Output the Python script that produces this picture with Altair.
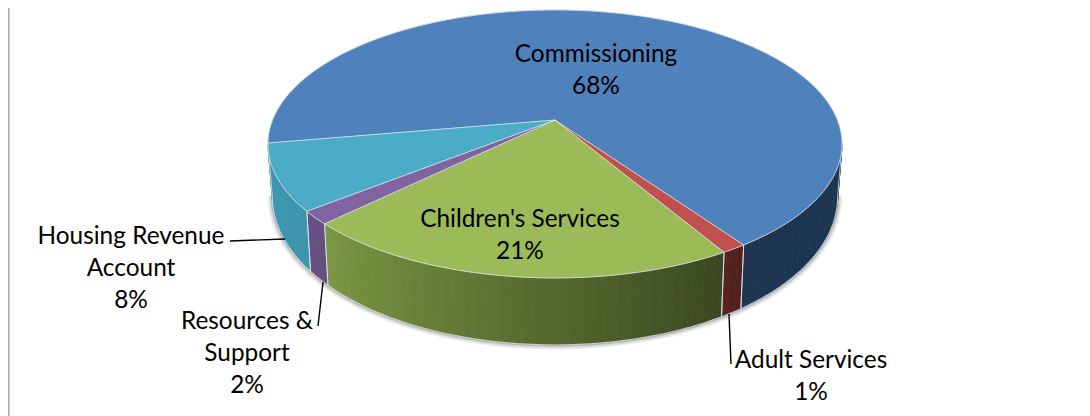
import math
import altair as alt

# ---- data
categories = ["Commissioning", "Adult Services", "Children's Services", "Resources & Support", "Housing Revenue Account"]
shares = [68.1, 1.2, 21.1, 1.6, 8.0]
percent_labels = ["68%", "1%", "21%", "2%", "8%"]

# ---- styles
top_colors = ["#4f81bd", "#c0504d", "#9bbb59", "#8064a2", "#4bacc6"]
wall_right = ["#1c3350", "#50201e", "#3b4820", "#65507f", "#3d94ad"]   # colour at the viewer's right end of the wall
wall_left = ["#1f3652", "#5a2320", "#7c9944", "#6a5284", "#3f97b1"]    # colour at the viewer's left end of the wall
edge = "#dfe6ee"

# ---- 3D view of the pie (perspective map of the unit disc to page pixels)
PAGE = 8
CX, CY = 555, 120
A, B, K = 282.4, 129.7, 0.179
START = 80.1  # degrees clockwise from the front where the first slice starts
VIS = math.degrees(math.acos(K))


def top(t):
    r = math.radians(t)
    u, v = -math.sin(r), math.cos(r)
    d = 1 - K * v
    return [CX + A * u / d - PAGE, CY + B * v / d - PAGE]


def bottom(t):
    x, y = top(t)
    v = math.cos(math.radians(t))
    return [CX - PAGE + (x + PAGE - CX) * 0.985, y + 49 + 18 * v]


def steps(a, b, size=1.0):
    n = max(2, int(abs(b - a) / size) + 1)
    return [a + (b - a) * i / n for i in range(n + 1)]


def mix(c1, c2, f):
    p = [int(c1[i:i + 2], 16) for i in (1, 3, 5)]
    q = [int(c2[i:i + 2], 16) for i in (1, 3, 5)]
    return "#%02x%02x%02x" % tuple(round(a + (b - a) * f) for a, b in zip(p, q))


def poly(pts, color):
    return {"type": "Feature", "properties": {"c": color},
            "geometry": {"type": "Polygon", "coordinates": [pts + [pts[0]]]}}


def line(pts, color="#000000"):
    return {"type": "Feature", "properties": {"c": color},
            "geometry": {"type": "LineString", "coordinates": pts}}


slices, walls, wall_lines = [], [], []
a = START
for i, s in enumerate(shares):
    b = a + s * 3.6
    # the pie surface
    slices.append(poly([top(t) for t in steps(a, b)] + [[CX - PAGE, CY - PAGE]], top_colors[i]))
    # the visible outer wall (front half only), in shaded strips
    for lo, hi in [(a, b), (a - 360, b - 360)]:
        lo2, hi2 = max(lo, -VIS), min(hi, VIS)
        if lo2 >= hi2:
            continue
        ts = steps(lo2, hi2, 2.0)
        for t1, t2 in zip(ts[:-1], ts[1:]):
            f = (t1 - lo2) / (hi2 - lo2)
            walls.append(poly([top(t1), top(t2), bottom(t2), bottom(t1)],
                              mix(wall_right[i], wall_left[i], f)))
        wall_lines.append(line([top(lo2), bottom(lo2)], edge))
        wall_lines.append(line([top(hi2), bottom(hi2)], edge))
    a = b

rim = line([bottom(t) for t in steps(-VIS, VIS)], edge)


def geo(features, **mark):
    return (alt.Chart(alt.Data(values=features))
            .mark_geoshape(**mark)
            .encode(color=alt.Color("properties.c:N", scale=None),
                    stroke=alt.Stroke("properties.c:N", scale=None))
            .project(type="identity", scale=1, translate=[0, 0]))


def geo_line(features, **mark):
    return (alt.Chart(alt.Data(values=features))
            .mark_geoshape(filled=False, **mark)
            .encode(stroke=alt.Stroke("properties.c:N", scale=None))
            .project(type="identity", scale=1, translate=[0, 0]))


def leader(x1, y1, x2, y2):
    return alt.Chart(alt.Data(values=[{"a": 1}])).mark_rule(color="#000000", strokeWidth=1.4).encode(
        x=alt.value(x1 - PAGE), x2=alt.value(x2 - PAGE), y=alt.value(y1 - PAGE), y2=alt.value(y2 - PAGE))


def label(text, x, y):
    return alt.Chart(alt.Data(values=[{"t": text}])).mark_text(
        font="Lato", fontSize=FONT, lineHeight=32, lineBreak="\n", align="center",
        baseline="alphabetic", color="#000000").encode(
        text="t:N", x=alt.value(x - PAGE), y=alt.value(y - PAGE))


FONT = 24.4
shadow = [geo_line([rim], strokeWidth=w, opacity=o) for w, o in [(9, 0.10), (6, 0.14), (3, 0.25)]]
for s in shadow:
    s.encoding.stroke = alt.value("#555555")

layers = shadow + [
    geo(walls, strokeWidth=0.8),
    geo_line(wall_lines, strokeWidth=1, opacity=0.8),
    geo_line([rim], strokeWidth=1.2, opacity=0.8),
    geo(slices, strokeWidth=0.3),
    geo_line([line([top(t) for t in steps(0, 360)], edge)], strokeWidth=1, opacity=0.8),
]

# slice edges on the surface
a = START
spokes = []
for s in shares:
    spokes.append(line([[CX - PAGE, CY - PAGE], top(a)], edge))
    a += s * 3.6
layers.append(geo_line(spokes, strokeWidth=1, opacity=0.8))

layers += [
    leader(230, 241, 285, 239),
    leader(318, 326, 323, 282),
    leader(731, 364, 729, 314),
    label(categories[0] + "\n" + percent_labels[0], 596, 62),
    label(categories[2] + "\n" + percent_labels[2], 520, 227),
    label("Housing Revenue\nAccount\n" + percent_labels[4], 131, 244),
    label("Resources &\nSupport\n" + percent_labels[3], 247, 329),
    label(categories[1] + "\n" + percent_labels[1], 811, 368),
    alt.Chart(alt.Data(values=[{"a": 1}])).mark_rule(color="#a6a6a6", strokeWidth=2).encode(
        x=alt.value(0.5), y=alt.value(0), y2=alt.value(408)),
]

chart = alt.layer(*layers).properties(
    width=1074, height=408, padding=0,
    autosize=alt.AutoSizeParams(type="none"),
).configure_view(stroke=None)

chart.save("out.html", embed_options={"renderer": "svg", "actions": False})
